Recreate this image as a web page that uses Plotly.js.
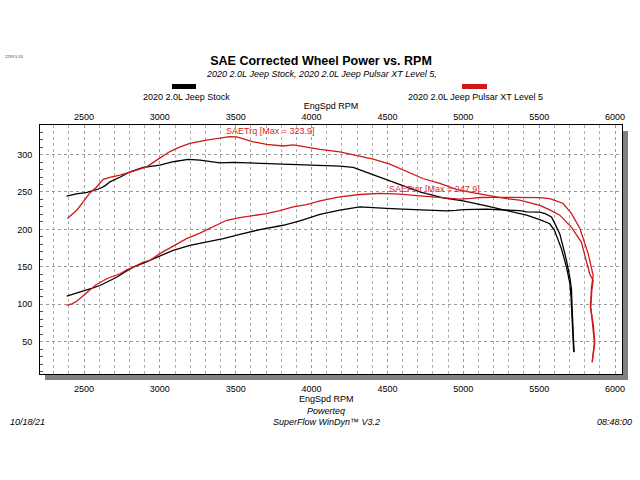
<!DOCTYPE html>
<html><head><meta charset="utf-8">
<script src="https://cdn.plot.ly/plotly-3.0.1.min.js"></script>
<style>html,body{margin:0;padding:0;background:#fff}#chart{width:640px;height:480px}</style>
</head><body><div id="chart"></div>
<script>
// ---- data ----
const stockTrqRpm = [2385, 2450, 2520, 2561, 2605, 2640, 2671, 2740, 2803, 2891, 3000, 3088, 3187, 3264, 3396, 3484, 3600, 3703, 3800, 3879, 4000, 4100, 4186, 4274, 4384, 4494, 4603, 4713, 4867, 4999, 5153, 5285, 5372, 5417, 5504, 5570, 5600, 5647, 5680, 5702, 5710, 5716, 5721, 5728];
const stockTrq    = [244.5, 247.5, 249.5, 251.5, 254.6, 258.5, 263.5, 270, 277, 282.8, 286, 290.4, 293.5, 292.6, 289, 289.5, 288.8, 288.2, 287, 286.3, 286, 285.5, 284.6, 282.8, 274.8, 265.8, 257.8, 250, 242, 238, 231.4, 225.6, 221.5, 218.9, 213, 207.5, 199, 174, 149.6, 128, 110, 90, 65, 36];

const stockHpRpm = [2386, 2440, 2495, 2550, 2605, 2660, 2715, 2770, 2825, 2891, 2935, 3000, 3088, 3198, 3308, 3418, 3528, 3659, 3813, 3923, 4055, 4186, 4318, 4400, 4494, 4600, 4713, 4800, 4889, 4950, 4999, 5153, 5285, 5372, 5417, 5504, 5540, 5581, 5603, 5636, 5658, 5680, 5702, 5713, 5717, 5721, 5725, 5730];
const stockHp    = [110.7, 114, 117, 121, 125, 130, 136, 143, 149.6, 155, 158.6, 164, 172, 178.7, 183, 187.6, 193.4, 199.7, 205.5, 211.3, 220.2, 225.6, 230, 229.5, 228, 227, 226.5, 225.5, 224.7, 225.5, 226.5, 227, 225.6, 225, 223.5, 223, 221, 216.6, 208, 194, 176.6, 158.6, 136, 120, 96, 67, 50, 35.7];

const pulsarTrqRpm = [2390, 2452, 2500, 2540, 2580, 2627, 2670, 2737, 2825, 2913, 2979, 3066, 3130, 3198, 3308, 3400, 3460, 3506, 3616, 3703, 3813, 3879, 3967, 4055, 4186, 4318, 4406, 4516, 4626, 4733, 4845, 4955, 5050, 5153, 5285, 5372, 5417, 5504, 5570, 5636, 5712, 5778, 5834, 5856, 5847, 5840, 5852, 5864, 5850];
const pulsarTrq    = [214.5, 225.6, 238, 249, 256, 266.8, 269.5, 272.5, 278, 283.6, 292.6, 304, 310, 315, 319.4, 322.5, 323.9, 323.5, 317, 313.6, 311.4, 313, 309.6, 307, 303.7, 298, 294, 287.3, 277, 268, 261.4, 253.4, 249.5, 245.7, 241, 239, 236.7, 232, 226, 219, 203, 183, 140, 131.8, 118, 96, 73, 49, 23];

const pulsarHpRpm = [2386, 2420, 2452, 2518, 2580, 2650, 2737, 2781, 2825, 2891, 2935, 3000, 3088, 3176, 3264, 3352, 3440, 3528, 3616, 3703, 3791, 3879, 3967, 4055, 4186, 4318, 4450, 4582, 4713, 4845, 4977, 5050, 5109, 5200, 5285, 5372, 5438, 5504, 5570, 5615, 5658, 5710, 5768, 5823, 5856, 5845, 5838, 5856, 5867, 5849];
const pulsarHp    = [98.3, 100.5, 104, 116, 126, 134, 140.7, 146, 149.6, 156.3, 158.6, 167.6, 177.3, 187.7, 195, 204, 212.2, 215.8, 218.5, 221, 225, 230, 233, 238, 243.4, 246.6, 248, 247, 244.8, 242.6, 240.5, 241.5, 242.6, 242.8, 242.6, 243, 242.6, 242.3, 241, 238, 234.6, 222, 201.5, 167.6, 138.4, 122.8, 96, 73.7, 49, 22.2];

const seriesNames = ['2020 2.0L Jeep Stock', '2020 2.0L Jeep Pulsar XT Level 5'];
const seriesColors = ['#000000', '#d01818'];
const chartTitle = 'SAE Corrected Wheel Power vs. RPM';
const chartSubtitle = '2020 2.0L Jeep Stock, 2020 2.0L Jeep Pulsar XT Level 5,';
const xTitle = 'EngSpd RPM';
const trqLabel = 'SAETrq [Max = 323.9]';
const pwrLabel = 'SAEPwr [Max = 247.9]';

// ---- geometry helpers (pixel -> paper) ----
const PL = 40, PR = 622, PT = 125, PB = 374;
const px = x => (x - PL) / (PR - PL);
const py = y => (PB - y) / (PB - PT);
const FONT = 'Liberation Sans, Arial, sans-serif';

const line = (x, y, c) => ({x, y, type:'scatter', mode:'lines', line:{color:c, width:1.3}, hoverinfo:'skip', showlegend:false});
const data = [
  line(stockTrqRpm, stockTrq, seriesColors[0]),
  line(stockHpRpm, stockHp, seriesColors[0]),
  line(pulsarTrqRpm, pulsarTrq, seriesColors[1]),
  line(pulsarHpRpm, pulsarHp, seriesColors[1]),
  {x:[null], y:[null], xaxis:'x2', yaxis:'y', type:'scatter', mode:'lines', showlegend:false, hoverinfo:'skip'}
];

const ann = (text, x, y, opts={}) => Object.assign({text, xref:'paper', yref:'paper', x:px(x), y:py(y), showarrow:false, xanchor:'center', yanchor:'middle', font:{family:FONT, size:9, color:'#000'}}, opts);

const xRange = [2210, 6046];
const layout = {
  width:640, height:480,
  paper_bgcolor:'#fff', plot_bgcolor:'#fff',
  margin:{l:PL, r:640-PR, t:PT, b:480-PB, pad:0},
  font:{family:FONT, size:9, color:'#000'},
  title:{text:chartTitle, font:{family:FONT, size:12.5, weight:'bold', color:'#000'}, xref:'container', yref:'container', x:321/640, y:1-61/480, xanchor:'center', yanchor:'middle'},
  xaxis:{range:xRange, tick0:0, dtick:500, showline:true, linecolor:'#000', linewidth:1, mirror:true, ticks:'', zeroline:false,
         showgrid:true, gridcolor:'#9a9a9a', griddash:'dot', gridwidth:1,
         minor:{dtick:100, tick0:0, showgrid:true, gridcolor:'#b0b0b0', griddash:'dot', gridwidth:1},
         tickfont:{family:FONT, size:9, color:'#000'}, ticklabelstandoff:6},
  xaxis2:{range:xRange, overlaying:'x', side:'top', tick0:0, dtick:500, showline:false, ticks:'', showgrid:false, zeroline:false,
          tickfont:{family:FONT, size:9, color:'#000'}, ticklabelstandoff:2,
          title:{text:xTitle, font:{family:FONT, size:9, color:'#000'}, standoff:1}},
  yaxis:{range:[6.7, 339.5], tick0:0, dtick:50, showline:true, linecolor:'#000', linewidth:1, mirror:true, ticks:'', zeroline:false,
         showgrid:true, gridcolor:'#9a9a9a', griddash:'dot', gridwidth:1,
         minor:{dtick:10, tick0:0, ticks:'inside', ticklen:3, tickcolor:'#555', showgrid:false},
         tickfont:{family:FONT, size:9, color:'#000'}, ticklabelstandoff:5},
  shapes:[
    {type:'rect', xref:'paper', yref:'paper', x0:px(PR+1), x1:px(PR+6), y0:py(PB+6), y1:py(PT+6), fillcolor:'#808080', line:{width:0}},
    {type:'rect', xref:'paper', yref:'paper', x0:px(PL+5), x1:px(PR+6), y0:py(PB+6), y1:py(PB+1), fillcolor:'#808080', line:{width:0}},
    {type:'rect', xref:'paper', yref:'paper', x0:px(172), x1:px(196), y0:py(89), y1:py(84), fillcolor:seriesColors[0], line:{width:0}},
    {type:'rect', xref:'paper', yref:'paper', x0:px(462), x1:px(487), y0:py(89), y1:py(84), fillcolor:seriesColors[1], line:{width:0}}
  ],
  annotations:[
    ann(chartSubtitle, 321, 74, {font:{family:FONT, size:9, color:'#000', style:'italic'}}),
    ann(seriesNames[0], 186, 97),
    ann(seriesNames[1], 475, 97),
    ann(trqLabel, 270, 131, {font:{family:FONT, size:9, color:'#d42a2a'}}),
    ann(pwrLabel, 434, 189, {font:{family:FONT, size:9, color:'#d42a2a'}}),
    ann(xTitle, 326, 399),
    ann('Powerteq', 326, 411, {font:{family:FONT, size:9, color:'#000', style:'italic'}}),
    ann('SuperFlow WinDyn™ V3.2', 326, 422, {font:{family:FONT, size:9, color:'#000', style:'italic'}}),
    ann('10/18/21', 8, 422, {xanchor:'left', font:{family:FONT, size:9, color:'#000', style:'italic'}}),
    ann('08:48:00', 634, 422, {xanchor:'right', font:{family:FONT, size:9, color:'#000', style:'italic'}}),
    ann('2293.5.53', 3, 57, {xanchor:'left', font:{family:FONT, size:4, color:'#333'}})
  ]
};

Plotly.newPlot('chart', data, layout, {staticPlot:true, displayModeBar:false});
</script></body></html>
